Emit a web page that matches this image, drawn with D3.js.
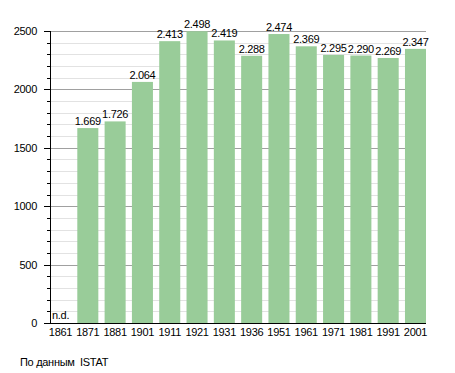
<!DOCTYPE html>
<html><head><meta charset="utf-8">
<script src="https://cdn.jsdelivr.net/npm/d3@7"></script>
<style>body{margin:0;background:#fff}svg{display:block}text{font-family:"Liberation Sans",Arial,sans-serif;fill:#000;white-space:pre;letter-spacing:-0.3px}</style>
</head><body>
<svg id="c" width="455" height="373"></svg>
<script>
const years = ["1861","1871","1881","1901","1911","1921","1931","1936","1951","1961","1971","1981","1991","2001"];
const population = [null,1669,1726,2064,2413,2498,2419,2288,2474,2369,2295,2290,2269,2347];
const yTicks = [0,500,1000,1500,2000,2500];
const noDataLabel = "n.d.";
const sourceNote = "По данным  ISTAT";

(function(){
const svg = d3.select("#c");
const pL = 50, pR = 426, pT = 31, pB = 323;
const x = d3.scaleBand().domain(years).range([pL, pR]).paddingInner(0.23).paddingOuter(0);
const y = d3.scaleLinear().domain([0,2500]).range([pB, pT]);
const fmt = v => d3.format(",")(v).replace(/,/g, ".");

const minor = d3.range(100, 2500, 100).filter(v => v % 500 !== 0);
svg.append("g").selectAll("line").data(minor).join("line")
  .attr("x1", pL).attr("x2", pR).attr("y1", d => Math.round(y(d))+0.5).attr("y2", d => Math.round(y(d))+0.5)
  .attr("stroke", "#e2e2e2").attr("stroke-width", 1);
svg.append("g").selectAll("line").data(yTicks.filter(v => v > 0)).join("line")
  .attr("x1", pL).attr("x2", pR).attr("y1", d => Math.round(y(d))+0.5).attr("y2", d => Math.round(y(d))+0.5)
  .attr("stroke", "#a0a0a0").attr("stroke-width", 1);

const data = years.map((yr, i) => ({yr, v: population[i]}));
svg.append("g").selectAll("rect").data(data.filter(d => d.v != null)).join("rect")
  .attr("x", d => x(d.yr)).attr("width", x.bandwidth())
  .attr("y", d => y(d.v)).attr("height", d => y(0) - y(d.v))
  .attr("fill", "#99cc99");

svg.append("g").selectAll("text").data(data.filter(d => d.v != null)).join("text")
  .attr("x", d => x(d.yr) + x.bandwidth()/2).attr("y", d => y(d.v) - 3)
  .attr("text-anchor", "middle").attr("font-size", 11).text(d => fmt(d.v));

svg.append("text").attr("x", x("1861") + 2).attr("y", y(0) - 4).attr("font-size", 11).text(noDataLabel);

svg.append("g").selectAll("line").data(d3.range(0, 2600, 100)).join("line")
  .attr("x1", d => d % 500 === 0 ? pL - 6 : pL - 3).attr("x2", pL)
  .attr("y1", d => Math.round(y(d))+0.5).attr("y2", d => Math.round(y(d))+0.5).attr("stroke", "#000");
svg.append("line").attr("x1", pL+0.5).attr("x2", pL+0.5).attr("y1", pT).attr("y2", pB).attr("stroke", "#000");
svg.append("line").attr("x1", pL-6).attr("x2", pR).attr("y1", pB+0.5).attr("y2", pB+0.5).attr("stroke", "#000");

svg.append("g").selectAll("text").data(yTicks).join("text")
  .attr("x", 37).attr("y", d => y(d) + 4).attr("text-anchor", "end").attr("font-size", 11).text(d => d);

svg.append("g").selectAll("text").data(years).join("text")
  .attr("x", d => x(d) + x.bandwidth()/2).attr("y", 336)
  .attr("text-anchor", "middle").attr("font-size", 11).text(d => d);

svg.append("text").attr("x", 20).attr("y", 366).attr("font-size", 11).text(sourceNote);
})();
</script>
</body></html>
